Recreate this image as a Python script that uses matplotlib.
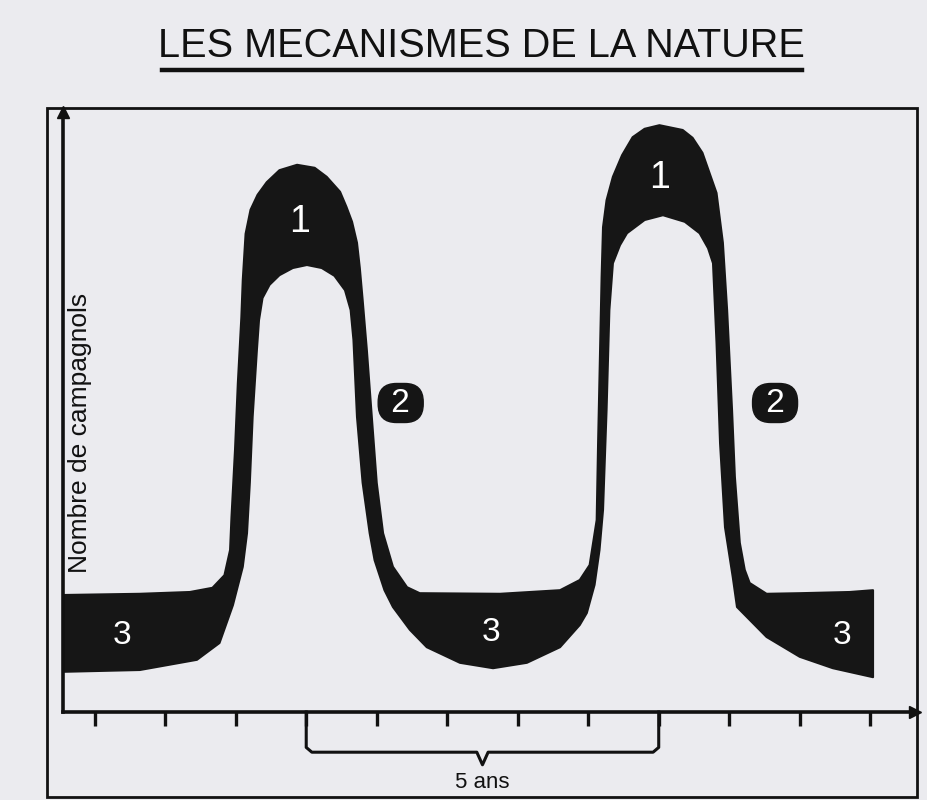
import matplotlib

matplotlib.use("Agg")
import matplotlib.pyplot as plt
from matplotlib import font_manager
from matplotlib.lines import Line2D
from matplotlib.patches import Rectangle

plt.rcParams["font.family"] = ["Liberation Sans", "DejaVu Sans"]

# band of vole numbers: upper edge and lower edge (years, relative numbers)
upper_years = [0.55, 1.64, 2.35, 2.67, 2.84, 2.92, 2.94, 2.99, 3.03, 3.08, 3.10, 3.14, 3.21, 3.31,
               3.44, 3.62, 3.87, 4.12, 4.29, 4.48, 4.57, 4.65, 4.72, 4.76, 4.80, 4.86, 4.93, 5.00,
               5.09, 5.23, 5.43, 5.61, 6.75, 7.60, 7.88, 8.02, 8.12, 8.14, 8.16, 8.19, 8.21, 8.26,
               8.35, 8.48, 8.63, 8.80, 9.01, 9.34, 9.48, 9.62, 9.82, 9.91, 9.97, 10.04, 10.08,
               10.15, 10.22, 10.29, 10.53, 11.0, 11.71, 12.04]
upper_vals = [19.5, 19.7, 20.0, 20.7, 22.8, 27.0, 32.5, 43.7, 54.8, 65.8, 72.0, 79.7, 83.7, 86.2,
              88.3, 90.3, 91.2, 90.7, 89.2, 86.7, 84.2, 81.7, 78.2, 74.0, 68.7, 60.3, 49.2, 38.2,
              29.8, 24.2, 20.8, 19.8, 19.7, 20.3, 22.0, 24.5, 32.0, 44.8, 55.8, 72.5, 80.8, 85.3,
              89.2, 92.8, 95.8, 97.2, 97.8, 97.0, 95.7, 93.2, 86.5, 78.2, 67.0, 50.3, 39.2,
              28.2, 23.7, 21.5, 19.7, 19.8, 20.0, 20.3]

lower_years = [0.55, 1.64, 2.45, 2.77, 2.96, 3.10, 3.16, 3.20, 3.24, 3.30, 3.33, 3.38, 3.48, 3.62,
               3.81, 4.01, 4.22, 4.40, 4.55, 4.63, 4.67, 4.72, 4.80, 4.90, 4.97, 5.11, 5.23, 5.47,
               5.71, 6.18, 6.65, 7.13, 7.60, 7.88, 7.98, 8.09, 8.16, 8.21, 8.26, 8.30, 8.35, 8.45,
               8.55, 8.80, 9.06, 9.37, 9.58, 9.70, 9.77, 9.82, 9.87, 9.94, 10.05, 10.11, 10.53,
               11.0, 11.47, 12.04]
lower_vals = [6.7, 7.0, 8.7, 11.5, 17.8, 24.2, 29.8, 38.2, 49.2, 60.3, 65.3, 69.0, 71.2, 72.8,
              74.0, 74.5, 74.0, 72.7, 70.3, 67.0, 62.0, 49.2, 38.2, 29.8, 25.3, 20.3, 17.5, 13.7,
              10.8, 8.2, 7.3, 8.2, 10.8, 14.5, 16.5, 21.2, 27.0, 33.7, 50.3, 67.0, 74.8, 77.8,
              79.8, 82.0, 82.8, 81.7, 79.8, 77.3, 74.8, 61.5, 44.8, 30.8, 22.5, 17.5, 12.5,
              9.2, 7.3, 5.8]

tick_years = list(range(1, 13))
brace_span = (4, 9)
brace_label = "5 ans"

phase_labels = ["1", "1", "2", "2", "3", "3", "3"]
phase_x = [3.91, 9.01, 5.34, 10.65, 1.38, 6.62, 11.6]
phase_y = [81.7, 89.0, 51.5, 51.5, 12.8, 13.3, 12.8]

title = "LES MECANISMES DE LA NATURE"
ylabel = "Nombre de campagnols"

# condensed face for the title if one is installed
installed = {f.name for f in font_manager.fontManager.ttflist}
if "Liberation Sans Narrow" in installed:
    title_font, title_size = ["Liberation Sans Narrow", "DejaVu Sans"], 34
else:
    title_font, title_size = ["Liberation Sans", "DejaVu Sans"], 28.5

W, H = 928, 800
fig = plt.figure(figsize=(W / 100, H / 100), dpi=100)
fig.patch.set_facecolor("#ebebef")

# outer frame
fig.add_artist(Rectangle((47 / W, 3 / H), 870 / W, 689 / H, transform=fig.transFigure,
                         fill=False, edgecolor="#111111", linewidth=2.0))

# title + underline
fig.text(481 / W, 1 - 46 / H, title, ha="center", va="center", fontsize=title_size,
         family=title_font, color="#111111")
fig.add_artist(Line2D([162 / W, 802 / W], [1 - 70 / H, 1 - 70 / H], transform=fig.transFigure,
                      color="#111111", linewidth=3.2))

ax = fig.add_axes([63 / W, 88 / H, 852 / W, 600 / H])
ax.set_facecolor("none")
ax.set_xlim(0.55, 0.55 + 852 / 70.5)
ax.set_ylim(0, 100)

xs = upper_years + lower_years[::-1]
ys = upper_vals + lower_vals[::-1]
ax.fill(xs, ys, color="#161616", edgecolor="#161616", linewidth=1.5, joinstyle="round")

for lab, x, y in zip(phase_labels, phase_x, phase_y):
    if lab == "2":
        ax.text(x, y, " " + lab + " ", ha="center", va="center", fontsize=24, color="white",
                bbox=dict(boxstyle="round,pad=0.12,rounding_size=0.55", facecolor="#151515",
                          edgecolor="#151515"))
    elif lab == "1":
        ax.text(x, y, lab, ha="center", va="center", fontsize=27, color="white")
    else:
        ax.text(x, y, lab, ha="center", va="center", fontsize=24, color="white")

for side in ("top", "right"):
    ax.spines[side].set_visible(False)
for side in ("left", "bottom"):
    ax.spines[side].set_linewidth(2.6)
    ax.spines[side].set_color("#111111")

ax.plot(1, 0, ">", color="#111111", markersize=9, transform=ax.transAxes, clip_on=False)
ax.plot(0, 1, "^", color="#111111", markersize=9, transform=ax.transAxes, clip_on=False)

ax.set_xticks(tick_years)
ax.set_xticklabels([])
ax.set_yticks([])
ax.tick_params(axis="x", direction="out", length=10, width=2.4, color="#111111")

# brace under five years
tr = ax.get_xaxis_transform()
b0, b1 = brace_span
mid = (b0 + b1) / 2
yb, yp = -0.067, -0.088
ax.plot([b0, b0, b0 + 0.08, mid - 0.08, mid, mid + 0.08, b1 - 0.08, b1, b1],
        [0, yb + 0.008, yb, yb, yp, yb, yb, yb + 0.008, 0],
        color="#111111", linewidth=2.2, transform=tr, clip_on=False, solid_joinstyle="round")
ax.text(mid, -0.117, brace_label, transform=tr, ha="center", va="center", fontsize=16,
        color="#111111")

fig.text(80 / W, 1 - 433 / H, ylabel, rotation=90, ha="center", va="center", fontsize=19,
         color="#111111")

fig.savefig("out.png", dpi=100, facecolor=fig.get_facecolor())
